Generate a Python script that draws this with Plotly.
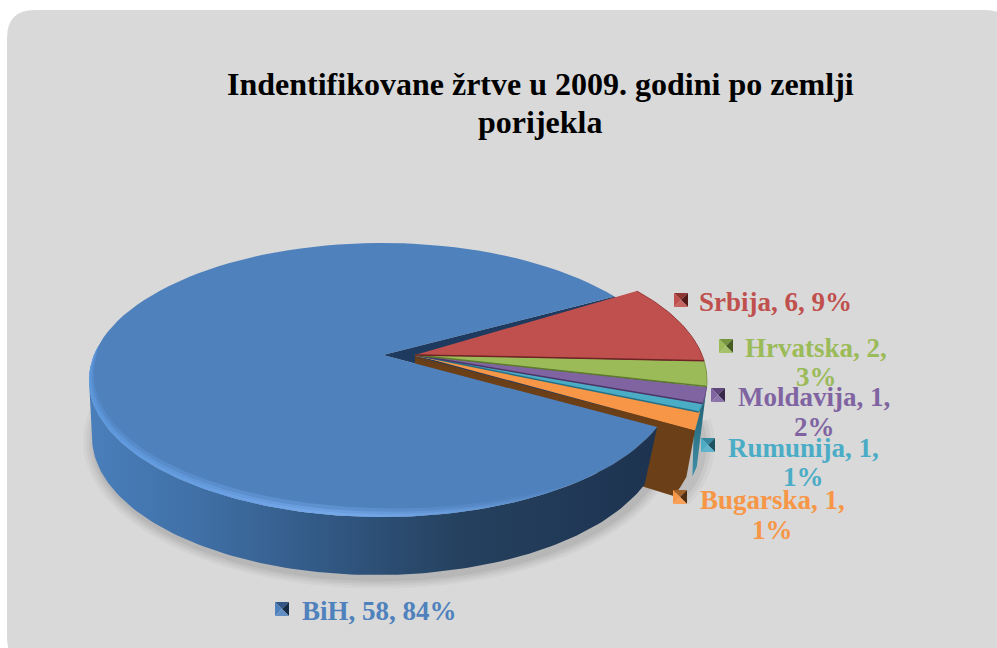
import numpy as np
import plotly.graph_objects as go

# --- data ---
categories = ["BiH", "Srbija", "Hrvatska", "Moldavija", "Rumunija", "Bugarska"]
counts = [58, 6, 2, 1, 1, 1]
percents = [84, 9, 3, 2, 1, 1]
title_lines = ["Indentifikovane žrtve u 2009. godini po zemlji", "porijekla"]

# --- styles ---
colors = ["#4f81bd", "#c0504d", "#9bbb59", "#8064a2", "#4bacc6", "#f79646"]
edge_colors = ["#1f3a5f", "#6e2422", "#5f7a2c", "#4a3566", "#256f84", "#6b3f17"]
marker_xy = [(282, 609), (681, 300), (726, 346), (718, 395), (708, 445), (680, 497)]
# (centre x, first line y, second line y or None)
label_xy = [(379, 611, None), (775, 302, None), (816, 348, 377), (814, 397, 427),
            (803, 448, 477), (772, 500, 530)]
BG = "#d9d9d9"
FONT = "Liberation Serif"

# ellipse geometry in page pixels (axes run 0..997 and 648..0)
TOP = dict(cx=382, cy=380, rx=293, ry=137)
BOT = dict(cx=377, cy=437, rx=285, ry=138)
APEX = (383, 355)
SHIFT = 32
BLUE_START = 37.5
REST_START = 40.5


def arc(e, a0, a1, dx=0, dy=0, n=120):
    t = np.radians(np.linspace(a0, a1, n))
    return e["cx"] + dx + e["rx"] * np.cos(t), e["cy"] + dy - e["ry"] * np.sin(t)


fig = go.Figure()


def poly(x, y, color=None, gradient=None, line=None, width=0):
    kw = dict(fillgradient=gradient) if gradient else dict(fillcolor=color)
    fig.add_trace(go.Scatter(x=list(x), y=list(y), mode="lines", fill="toself",
                             line=dict(color=line or "rgba(0,0,0,0)", width=width),
                             hoverinfo="skip", showlegend=False, **kw))


def stroke(x, y, color, width):
    fig.add_trace(go.Scatter(x=list(x), y=list(y), mode="lines",
                             line=dict(color=color, width=width),
                             hoverinfo="skip", showlegend=False))


def mix(hex_a, hex_b, t):
    a = [int(hex_a[i:i + 2], 16) for i in (1, 3, 5)]
    b = [int(hex_b[i:i + 2], 16) for i in (1, 3, 5)]
    return "#%02x%02x%02x" % tuple(round(p + (q - p) * t) for p, q in zip(a, b))


sweeps = [p / sum(percents) * 360 for p in percents]
blue_end = BLUE_START + sweeps[0]

# soft shadow
for grow, alpha in [(12, .03), (9, .035), (6, .045), (3, .05)]:
    e = dict(cx=380, cy=441, rx=BOT["rx"] + grow, ry=BOT["ry"] + grow * .8)
    x, y = arc(e, 0, 360)
    poly(x, y, f"rgba(0,0,0,{alpha})")
for grow, alpha in [(12, .03), (8, .04), (4, .05)]:
    e = dict(cx=418, cy=445, rx=BOT["rx"] + grow, ry=BOT["ry"] + grow * .8)
    x, y = arc(e, 10, -24, n=40)
    poly(list(x) + [600], list(y) + [440], f"rgba(0,0,0,{alpha})")

# dark hollow behind the pulled-out slices
x, y = arc(TOP, BLUE_START, blue_end - 360, n=40)
poly([APEX[0]] + list(x), [APEX[1]] + list(y), edge_colors[0])

# slice boundaries for the pulled-out slices
bounds = [REST_START]
for s in sweeps[1:]:
    bounds.append(bounds[-1] - s)
rest_apex = (APEX[0] + SHIFT, APEX[1])
FAR = dict(cx=BOT["cx"] + SHIFT, cy=BOT["cy"] + 6, rx=BOT["rx"], ry=BOT["ry"])
ORANGE_DROP = 10

# outer wall of the slices seen at the right edge
x0, y0 = arc(TOP, bounds[2], bounds[5], dx=SHIFT, n=30)
x1, y1 = arc(FAR, bounds[5] + 3, bounds[3], dx=7, n=30)
poly(list(x0) + list(x1), list(y0) + list(y1),
     gradient=dict(type="vertical", colorscale=[[0, "#3d8ea6"], [1, "#1f5c6e"]]))

# orange slice's brown wall, with its rounded lower corner
ox, oy = arc(TOP, bounds[4], bounds[5], dx=SHIFT, n=20)
oy = oy + np.linspace(0, ORANGE_DROP, 20)
bx, by = arc(FAR, bounds[5] + 3, bounds[5] - 5, n=20)
poly([rest_apex[0]] + [ox[-1]] + list(bx) + [rest_apex[0]],
     [rest_apex[1] + 4] + [oy[-1]] + list(by) + [rest_apex[1] + 60],
     edge_colors[5], line=edge_colors[5], width=2)

# blue side wall
x0, y0 = arc(TOP, 180, blue_end)
x1, y1 = arc(BOT, blue_end, 180)
poly(list(x0) + list(x1), list(y0) + list(y1),
     gradient=dict(type="horizontal", colorscale=[
         [0, "#4a7fbb"], [.2, "#3f6fa5"], [.45, "#30557f"],
         [.65, "#25415f"], [1, "#1d3350"]]))

# blue top face
x, y = arc(TOP, BLUE_START, blue_end)
poly([APEX[0]] + list(x), [APEX[1]] + list(y), colors[0])

# bevel along the near rim of the blue slice, tapering to nothing at both ends
x0, y0 = arc(TOP, 165, 312)
u = np.linspace(0, 1, x0.size)
for width, scale in [(10, .35), (6, .5), (3, .6)]:
    w = width * np.sin(np.pi * u) ** .6
    x1 = TOP["cx"] + (x0 - TOP["cx"]) * (1 - w / TOP["rx"])
    y1 = TOP["cy"] + (y0 - TOP["cy"]) * (1 - w / TOP["ry"])
    poly(list(x0) + list(x1[::-1]), list(y0) + list(y1[::-1]),
         gradient=dict(type="horizontal", colorscale=[
             [0, f"rgba(96,156,226,{scale})"], [.5, f"rgba(122,174,240,{scale})"],
             [1, "rgba(122,174,240,0)"]]))

# pulled-out slices, top faces: drawn front to back so each edge stays visible
for i in range(5, 0, -1):
    x, y = arc(TOP, bounds[i - 1], bounds[i], dx=SHIFT, n=40)
    if i == 5:
        y = y + np.linspace(0, ORANGE_DROP, 40)
        poly([rest_apex[0]] + list(x), [rest_apex[1]] + list(y), colors[i],
             line=colors[i], width=2)
        stroke([rest_apex[0], x[-1]], [rest_apex[1] + 2, y[-1] + 1], edge_colors[i], 1.5)
    else:
        poly([rest_apex[0]] + list(x), [rest_apex[1]] + list(y), colors[i])
        stroke([rest_apex[0], x[-1]], [rest_apex[1], y[-1]], edge_colors[i], 1.5)
        stroke(x, y, mix(colors[i], edge_colors[i], .5), 1)

# legend-key squares: four shaded triangles meeting in the middle
H = 7
for (mx, my), c, ec in zip(marker_xy, colors, edge_colors):
    dark = mix(ec, "#000000", .25)
    poly([mx - H, mx + H, mx], [my - H, my - H, my], mix(c, ec, .6))       # top
    poly([mx + H, mx + H, mx], [my - H, my + H, my], dark)                  # right
    poly([mx - H, mx + H, mx], [my + H, my + H, my], mix(c, "#ffffff", .1)) # bottom
    poly([mx - H, mx - H, mx], [my - H, my + H, my], c)                     # left

# data labels
for cat, n, p, (lx, y1, y2), c in zip(categories, counts, percents, label_xy, colors):
    lines = [(f"{cat}, {n}, {p}%", y1)] if y2 is None else [(f"{cat}, {n},", y1), (f"{p}%", y2)]
    for txt, ly in lines:
        fig.add_annotation(x=lx, y=ly, text=f"<b>{txt}</b>", showarrow=False,
                           xanchor="center", yanchor="middle", align="center",
                           font=dict(family=FONT, size=27, color=c))

# title
for txt, ly in zip(title_lines, [84, 122]):
    fig.add_annotation(x=540, y=ly, text=f"<b>{txt}</b>", showarrow=False,
                       xanchor="center", yanchor="middle", align="center",
                       font=dict(family=FONT, size=32, color="#000000"))

# rounded grey panel
R = 28
L, T, RT, B = 7, 10, 1013, 665
panel = (f"M{L+R},{T} L{RT-R},{T} Q{RT},{T} {RT},{T+R} L{RT},{B-R} Q{RT},{B} {RT-R},{B} "
         f"L{L+R},{B} Q{L},{B} {L},{B-R} L{L},{T+R} Q{L},{T} {L+R},{T} Z")
fig.update_layout(
    width=997, height=648, margin=dict(l=0, r=0, t=0, b=0),
    paper_bgcolor="#ffffff", plot_bgcolor="rgba(0,0,0,0)",
    xaxis=dict(range=[0, 997], visible=False, fixedrange=True),
    yaxis=dict(range=[648, 0], visible=False, fixedrange=True),
    shapes=[dict(type="path", path=panel, xref="x", yref="y", layer="below",
                 fillcolor=BG, line=dict(width=0))],
)
fig.write_html("out.html", config=dict(displayModeBar=False),
               post_script="document.body.style.margin='0';document.body.style.overflow='hidden';")
